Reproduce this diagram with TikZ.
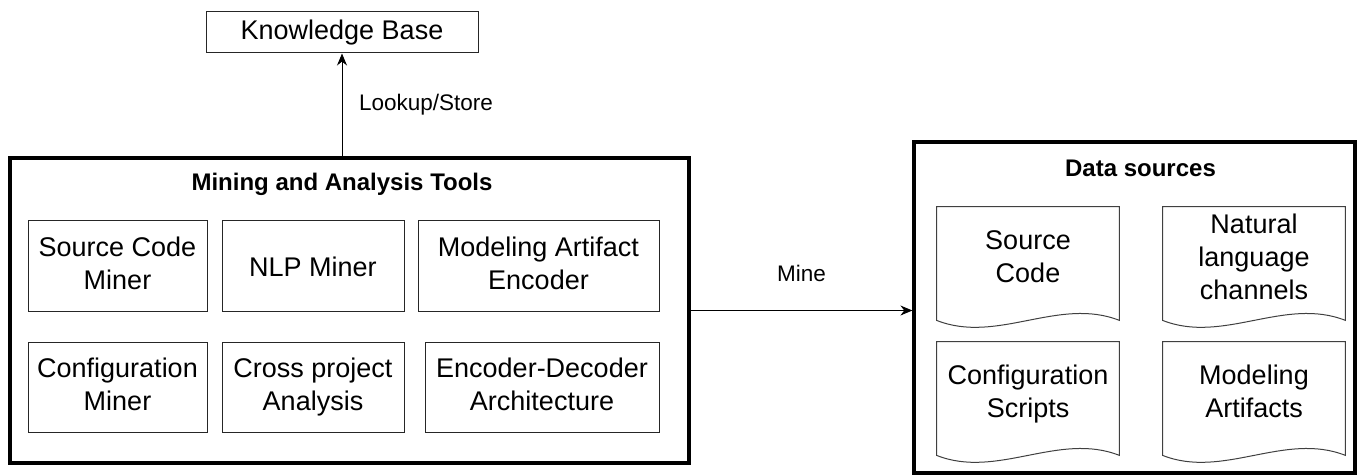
\documentclass[tikz,border=0pt]{standalone}
\usepackage{fontspec}
\setmainfont{Liberation Sans}
\usetikzlibrary{arrows.meta,calc}
\newcommand{\boxstrut}{\rule[-2.7pt]{0pt}{16.5pt}}
\tikzset{
  toolbox/.style={draw=black!85, line width=0.5pt, align=center, inner sep=2pt,
    font=\fontsize{13.5}{16.5}\selectfont,
    execute at begin node=\boxstrut, execute at end node=\boxstrut},
  kbbox/.style={draw=black!85, line width=0.5pt, inner sep=2pt,
    font=\fontsize{13.5}{16.5}\selectfont, text height=10.2pt, text depth=2.8pt},
  groupbox/.style={draw=black, line width=1.6pt},
  grouptitle/.style={font=\bfseries\fontsize{12}{14}\selectfont},
  doctext/.style={align=center, inner sep=0pt, minimum width=91pt, minimum height=52pt,
    font=\fontsize{13.5}{16.5}\selectfont,
    execute at begin node=\boxstrut, execute at end node=\boxstrut},
  docline/.style={draw=black!75, line width=0.5pt},
  edgelabel/.style={font=\fontsize{11.25}{13.5}\selectfont},
  flow/.style={-{Stealth[length=6pt,width=5pt]}, line width=0.5pt}
}
\newcommand{\docpage}[1]{%
  \draw[docline] (#1.north west) -- (#1.north east) -- ($(#1.south east)+(0,9)$)
    .. controls ($(#1.south east)+(-60.67,-15)$) and ($(#1.south west)+(60.67,33)$)
    .. ($(#1.south west)+(0,9)$) -- cycle;}
\begin{document}
\begin{tikzpicture}[x=0.5pt,y=-0.5pt]
  \useasboundingbox (0,0) rectangle (1359,476);
  \draw
    (342,32.5) node[kbbox, minimum width=136pt, minimum height=20.5pt] (kb){Knowledge Base}
    (349.5,310.5) node[groupbox, minimum width=339.5pt, minimum height=152.5pt] (mat){}
    (342,184) node[grouptitle] (mattitle){Mining and Analysis Tools}
    (117.5,265.5) node[toolbox, minimum width=89.5pt, minimum height=45.5pt] (scm){Source Code\\Miner}
    (313,265.5) node[toolbox, minimum width=91pt, minimum height=45.5pt] (nlp){NLP Miner}
    (538.5,265.5) node[toolbox, minimum width=120.5pt, minimum height=45.5pt] (mae){Modeling Artifact\\Encoder}
    (117.5,387) node[toolbox, minimum width=89.5pt, minimum height=45pt] (cfm){Configuration\\Miner}
    (313,387) node[toolbox, minimum width=91pt, minimum height=45pt] (cpa){Cross project\\Analysis}
    (542,387) node[toolbox, minimum width=117pt, minimum height=45pt] (eda){Encoder-Decoder\\Architecture}
    (1134.5,307.5) node[groupbox, minimum width=220.5pt, minimum height=165.5pt] (ds){}
    (1140.5,168) node[grouptitle] (dstitle){Data sources}
    (1028,259) node[doctext] (dsc){Source\\Code}
    (1254,259) node[doctext] (dnl){Natural\\language\\channels}
    (1028,394) node[doctext] (dcs){Configuration\\Scripts}
    (1254,394) node[doctext] (dma){Modeling\\Artifacts};
  \docpage{dsc}
  \docpage{dnl}
  \docpage{dcs}
  \docpage{dma}
  \begin{scope}[flow]
    \draw (kb.south |- mat.north) to node[edgelabel, right=5pt] (lslabel){Lookup/Store} (kb.south);
    \draw (mat.east) to node[edgelabel, above=11pt] (minelabel){Mine} (mat.east -| ds.west);
  \end{scope}
\end{tikzpicture}
\end{document}
